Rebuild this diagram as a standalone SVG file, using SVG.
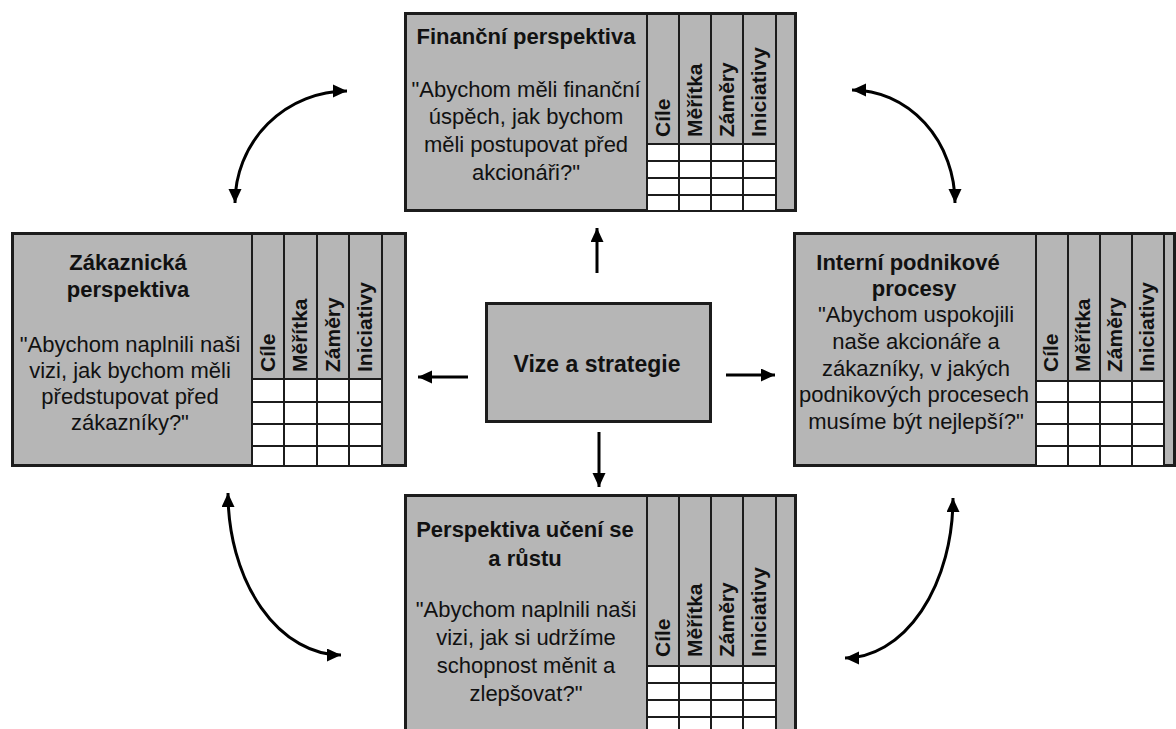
<svg xmlns="http://www.w3.org/2000/svg" width="1176" height="729" viewBox="0 0 1176 729">
<style>
.box{fill:#b6b6b6;stroke:#1c1c1c;stroke-width:3}
.cells{fill:#ffffff}
.grid{fill:none;stroke:#1c1c1c;stroke-width:2}
text{font-family:"Liberation Sans",Arial,sans-serif;fill:#111}
.t{font-size:22px;font-weight:bold;text-anchor:middle}
.c{font-size:23px;font-weight:bold;text-anchor:middle}
.q{font-size:22px;text-anchor:middle}
.v{font-size:21px;font-weight:bold}
.conn{fill:none;stroke:#000;stroke-width:3}
</style>
<defs>
<marker id="ah" markerUnits="userSpaceOnUse" viewBox="0 0 15 14" markerWidth="15" markerHeight="14" refX="14" refY="6.5" orient="auto-start-reverse">
<path d="M0,0 L14,6.5 L0,13 z" fill="#000"/>
</marker>
</defs>
<rect width="1176" height="729" fill="#fff"/>

<g id="financni">
<rect class="box" x="405.5" y="13.5" width="390" height="197"/>
<rect class="cells" x="647" y="144" width="129" height="66"/>
<path class="grid" d="M647,13V211M679,13V211M711,13V211M743,13V211M776,13V211M647,144H776M647,161H776M647,178H776M647,195H776"/>
<text class="t" x="526" y="44">Finanční perspektiva</text>
<text class="q" x="526" y="97">"Abychom měli finanční</text>
<text class="q" x="526" y="124">úspěch, jak bychom</text>
<text class="q" x="526" y="152">měli postupovat před</text>
<text class="q" x="526" y="180">akcionáři?"</text>
<text class="v" transform="translate(670,137) rotate(-90)">Cíle</text>
<text class="v" transform="translate(702,137) rotate(-90)">Měřítka</text>
<text class="v" transform="translate(734,137) rotate(-90)">Záměry</text>
<text class="v" transform="translate(766,137) rotate(-90)">Iniciativy</text>
</g>

<g id="zakaznicka">
<rect class="box" x="12.5" y="233.5" width="393" height="232"/>
<rect class="cells" x="252" y="379" width="130" height="86"/>
<path class="grid" d="M252,233V466M284,233V466M317,233V466M349,233V466M382,233V466M252,379H382M252,402H382M252,424H382M252,446H382"/>
<text class="t" x="128" y="270">Zákaznická</text>
<text class="t" x="128" y="297">perspektiva</text>
<text class="q" x="130" y="352">"Abychom naplnili naši</text>
<text class="q" x="130" y="378">vizi, jak bychom měli</text>
<text class="q" x="130" y="404">předstupovat před</text>
<text class="q" x="130" y="430">zákazníky?"</text>
<text class="v" transform="translate(275,372) rotate(-90)">Cíle</text>
<text class="v" transform="translate(307,372) rotate(-90)">Měřítka</text>
<text class="v" transform="translate(340,372) rotate(-90)">Záměry</text>
<text class="v" transform="translate(372,372) rotate(-90)">Iniciativy</text>
</g>

<g id="interni">
<rect class="box" x="794.5" y="233.5" width="380" height="232"/>
<rect class="cells" x="1036" y="381" width="128" height="84"/>
<path class="grid" d="M1036,233V466M1068,233V466M1100,233V466M1132,233V466M1164,233V466M1036,381H1164M1036,402H1164M1036,424H1164M1036,446H1164"/>
<text class="t" x="908" y="270">Interní podnikové</text>
<text class="t" x="914" y="296">procesy</text>
<text class="q" x="916" y="322">"Abychom uspokojili</text>
<text class="q" x="916" y="349">naše akcionáře a</text>
<text class="q" x="916" y="376">zákazníky, v jakých</text>
<text class="q" x="914" y="402">podnikových procesech</text>
<text class="q" x="916" y="429">musíme být nejlepší?"</text>
<text class="v" transform="translate(1058,372) rotate(-90)">Cíle</text>
<text class="v" transform="translate(1090,372) rotate(-90)">Měřítka</text>
<text class="v" transform="translate(1122,372) rotate(-90)">Záměry</text>
<text class="v" transform="translate(1154,372) rotate(-90)">Iniciativy</text>
</g>

<g id="uceni">
<rect class="box" x="405.5" y="495.5" width="390" height="260"/>
<rect class="cells" x="647" y="666" width="129" height="70"/>
<path class="grid" d="M647,495V729M679,495V729M711,495V729M743,495V729M776,495V729M647,666H776M647,683H776M647,700H776M647,717H776"/>
<text class="t" x="525" y="537">Perspektiva učení se</text>
<text class="t" x="525" y="566">a růstu</text>
<text class="q" x="526" y="617">"Abychom naplnili naši</text>
<text class="q" x="526" y="645">vizi, jak si udržíme</text>
<text class="q" x="526" y="673">schopnost měnit a</text>
<text class="q" x="526" y="701">zlepšovat?"</text>
<text class="v" transform="translate(670,657) rotate(-90)">Cíle</text>
<text class="v" transform="translate(702,657) rotate(-90)">Měřítka</text>
<text class="v" transform="translate(734,657) rotate(-90)">Záměry</text>
<text class="v" transform="translate(766,657) rotate(-90)">Iniciativy</text>
</g>

<g id="vize">
<rect class="box" x="486.5" y="303.5" width="224" height="118"/>
<text class="c" x="597" y="372">Vize a strategie</text>
</g>

<g id="connectors">
<path class="conn" d="M597,273V228" marker-end="url(#ah)"/>
<path class="conn" d="M468,377H418" marker-end="url(#ah)"/>
<path class="conn" d="M726,375H775" marker-end="url(#ah)"/>
<path class="conn" d="M599,432V487" marker-end="url(#ah)"/>
<path class="conn" d="M347,91A112,112 0 0 0 235,203" marker-start="url(#ah)" marker-end="url(#ah)"/>
<path class="conn" d="M852,90A103,113 0 0 1 955,203" marker-start="url(#ah)" marker-end="url(#ah)"/>
<path class="conn" d="M228,493A113,162 0 0 0 341,655" marker-start="url(#ah)" marker-end="url(#ah)"/>
<path class="conn" d="M953,498A108,160 0 0 1 845,658" marker-start="url(#ah)" marker-end="url(#ah)"/>
</g>
</svg>
